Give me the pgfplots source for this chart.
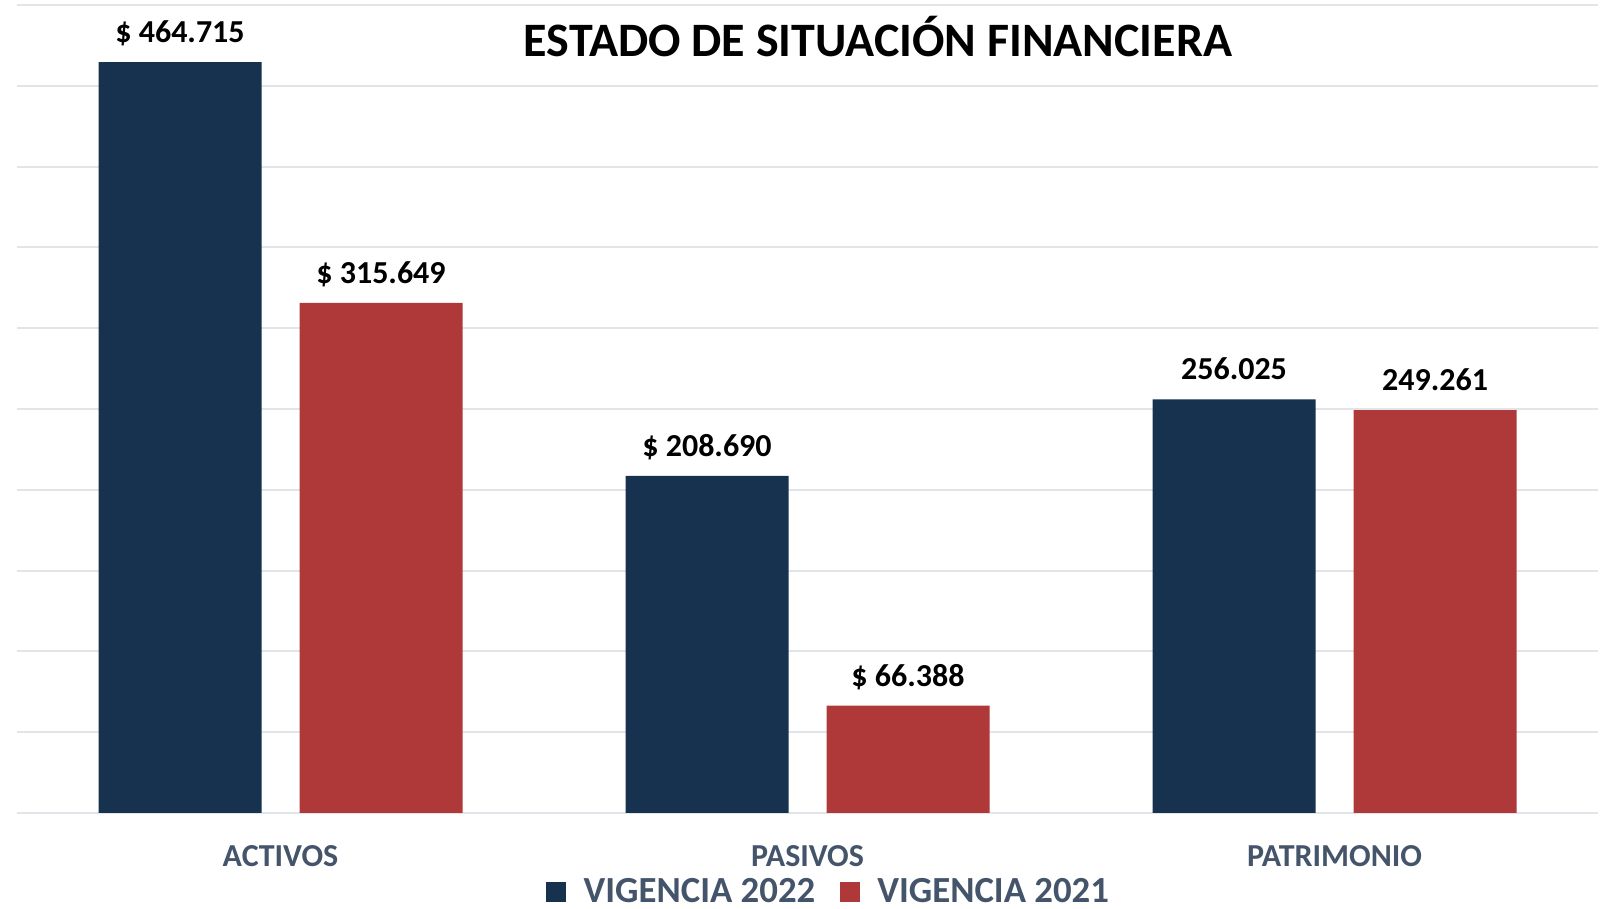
\documentclass[border=0pt]{standalone}
\usepackage{pgfplots}
\pgfplotsset{compat=1.18}
\usepackage{fontspec}
\setmainfont{Carlito}
\definecolor{navy}{HTML}{16324F}
\definecolor{redb}{HTML}{AF3838}
\definecolor{labc}{HTML}{44546A}
\definecolor{gridc}{HTML}{E1E5EA}
\begin{document}
\begin{tikzpicture}
\useasboundingbox (-8.5pt,-48pt) rectangle (792pt,406.5pt);
\begin{axis}[
  at={(0,0)}, anchor=south west,
  scale only axis, width=790.5pt, height=404pt,
  ybar=19pt, bar width=81.5pt,
  xmin=-0.5, xmax=2.5, ymin=0, ymax=500000,
  ytick={0,50000,...,500000}, yticklabel=\empty,
  ymajorgrids, grid style={gridc, line width=1pt},
  xtick={0,1,2}, xticklabels={ACTIVOS,PASIVOS,PATRIMONIO},
  xticklabel style={font=\bfseries\fontsize{16}{16}\selectfont, text=labc, anchor=base, yshift=-26.7pt},
  major tick length=0pt,
  axis line style={draw=none},
  title={ESTADO DE SITUACIÓN FINANCIERA},
  title style={at={(0.5446,0.9465)}, anchor=center, font=\bfseries\fontsize{24}{24}\selectfont},
  nodes near coords, point meta=explicit symbolic,
  every node near coord/.append style={font=\bfseries\fontsize{16}{16}\selectfont, text=black, anchor=base, yshift=9.7pt},
  legend columns=2,
  legend style={at={(0.5182,0)}, anchor=center, yshift=-39.5pt, draw=none, fill=none,
    font=\bfseries\fontsize{18.4}{18.4}\selectfont, text=labc,
    /tikz/every even column/.append style={column sep=3.6pt},
    nodes={inner xsep=8.7pt}},
  legend image code/.code={\fill[#1] (0pt,-5pt) rectangle (10pt,5pt);},
]
\addplot[fill=navy, draw=none] coordinates {(0,464715) [\$ 464.715] (1,208690) [\$ 208.690] (2,256025) [256.025]};
\addplot[fill=redb, draw=none] coordinates {(0,315649) [\$ 315.649] (1,66388) [\$ 66.388] (2,249261) [249.261]};
\legend{VIGENCIA 2022, VIGENCIA 2021}
\end{axis}
\end{tikzpicture}
\end{document}
